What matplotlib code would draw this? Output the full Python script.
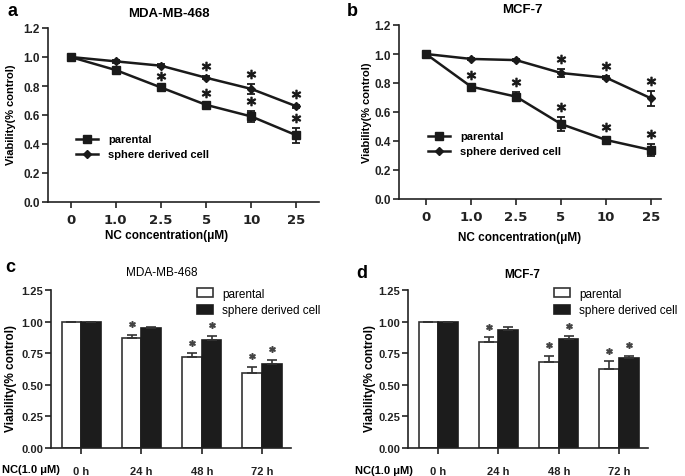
import matplotlib
matplotlib.use("Agg")
import matplotlib.pyplot as plt
from matplotlib.lines import Line2D
import numpy as np

plt.rcParams['font.family'] = ['Liberation Sans', 'DejaVu Sans']

W, H = 685, 477

# line panels (a, b)
conc_labels = ['0', '1.0', '2.5', '5', '10', '25']

a_par = [1.0, 0.91, 0.79, 0.67, 0.59, 0.46]
a_par_err = [0.01, 0.015, 0.012, 0.01, 0.035, 0.05]
a_sph = [1.0, 0.97, 0.94, 0.857, 0.78, 0.66]
a_sph_err = [0.01, 0.01, 0.01, 0.012, 0.035, 0.012]
a_par_star = [0, 0, 1, 1, 1, 1]
a_sph_star = [0, 0, 0, 1, 1, 1]

b_par = [1.0, 0.775, 0.706, 0.517, 0.407, 0.338]
b_par_err = [0.012, 0.012, 0.03, 0.05, 0.02, 0.04]
b_sph = [1.0, 0.966, 0.958, 0.869, 0.837, 0.694]
b_sph_err = [0.01, 0.008, 0.008, 0.025, 0.01, 0.05]
b_par_star = [0, 1, 1, 1, 1, 1]
b_sph_star = [0, 0, 0, 1, 1, 1]

# bar panels (c, d)
time_labels = ['0 h', '24 h', '48 h', '72 h']

c_par = [1.0, 0.868, 0.718, 0.594]
c_par_err = [0.0, 0.026, 0.03, 0.045]
c_sph = [1.0, 0.947, 0.857, 0.667]
c_sph_err = [0.0, 0.012, 0.03, 0.03]
c_par_star = [0, 1, 1, 1]
c_sph_star = [0, 0, 1, 1]

d_par = [1.0, 0.842, 0.678, 0.625]
d_par_err = [0.0, 0.034, 0.048, 0.06]
d_sph = [1.0, 0.934, 0.863, 0.71]
d_sph_err = [0.0, 0.026, 0.021, 0.016]
d_par_star = [0, 1, 1, 1]
d_sph_star = [0, 0, 1, 1]

INK = '#1a1a1a'


def box(l, t, r, b):
    return [l / W, 1 - b / H, (r - l) / W, (b - t) / H]


def ftext(x, y, s, **kw):
    fig.text(x / W, 1 - y / H, s, ha=kw.pop('ha', 'center'), va=kw.pop('va', 'center'), **kw)


def style(ax):
    for s in ['top', 'right']:
        ax.spines[s].set_visible(False)
    for s in ['left', 'bottom']:
        ax.spines[s].set_linewidth(1.2)
        ax.spines[s].set_color('#222222')
    ax.tick_params(direction='out', length=4, width=1.2, colors='#222222', pad=2)


def line_panel(ax, par, par_err, sph, sph_err, par_star, sph_star, xlim):
    x = np.arange(len(conc_labels))
    ax.errorbar(x, par, yerr=par_err, color=INK, marker='s', markersize=5.5,
                lw=1.8, elinewidth=1.3, capsize=3, capthick=1.3)
    ax.errorbar(x, sph, yerr=sph_err, color=INK, marker='D', markersize=4.5,
                lw=1.8, elinewidth=1.3, capsize=3, capthick=1.3)
    for i in range(len(x)):
        if par_star[i]:
            ax.plot(x[i], par[i] + par_err[i] + 0.07, marker='$*$', color=INK,
                    markersize=6, linestyle='none')
        if sph_star[i]:
            ax.plot(x[i], sph[i] + sph_err[i] + 0.07, marker='$*$', color=INK,
                    markersize=6, linestyle='none')
    ax.set_xlim(*xlim)
    ax.set_ylim(0, 1.2)
    ax.set_xticks(x)
    ax.set_xticklabels(conc_labels, fontsize=9.5, fontweight='heavy', family='DejaVu Sans')
    ax.set_yticks(np.arange(0, 1.21, 0.2))
    ax.set_yticklabels(['%.1f' % v for v in np.arange(0, 1.21, 0.2)], fontsize=8.5,
                       fontweight='bold')
    style(ax)
    ax.tick_params(axis='x', pad=4)
    handles = [Line2D([], [], color=INK, marker='s', markersize=5.5, lw=1.8),
               Line2D([], [], color=INK, marker='D', markersize=4.5, lw=1.8)]
    return handles


def bar_panel(ax, par, par_err, sph, sph_err, par_star, sph_star):
    x = np.arange(len(time_labels))
    w = 0.325
    ax.bar(x - w / 2, par, w, yerr=[np.zeros(len(x)), par_err], color='white',
           edgecolor='#333333', lw=1.2, capsize=3.5,
           error_kw=dict(elinewidth=1.2, capthick=1.2, ecolor='#333333'), label='parental')
    ax.bar(x + w / 2, sph, w, yerr=[np.zeros(len(x)), sph_err], color='#1c1c1c',
           edgecolor='#1c1c1c', lw=1.2, capsize=3.5,
           error_kw=dict(elinewidth=1.2, capthick=1.2, ecolor='#333333'),
           label='sphere derived cell')
    for i in range(len(x)):
        if par_star[i]:
            ax.plot(x[i] - w / 2, par[i] + par_err[i] + 0.085, marker='$*$', color='#444444',
                    markersize=4, linestyle='none')
        if sph_star[i]:
            ax.plot(x[i] + w / 2, sph[i] + sph_err[i] + 0.085, marker='$*$', color='#444444',
                    markersize=4, linestyle='none')
    ax.set_xlim(-0.5, 3.48)
    ax.set_ylim(0, 1.25)
    ax.set_xticks(x)
    ax.set_xticklabels(time_labels, fontsize=8, fontweight='bold')
    ticks = np.arange(0, 1.26, 0.25)
    ax.set_yticks(ticks)
    ax.set_yticklabels(['%.2f' % v for v in ticks], fontsize=8, fontweight='bold')
    style(ax)
    ax.tick_params(axis='x', pad=9)
    ax.tick_params(axis='y', pad=1.5)


fig = plt.figure(figsize=(W / 100, H / 100), dpi=100)

names = ['parental', 'sphere derived cell']

ax_a = fig.add_axes(box(48, 29, 319, 203))
h = line_panel(ax_a, a_par, a_par_err, a_sph, a_sph_err, a_par_star, a_sph_star, (-0.5, 5.5))
ax_a.legend(h, names, loc='upper left', bbox_to_anchor=(0.082, 0.42), frameon=False,
            prop=dict(weight='bold', size=8), handlelength=2.0, handletextpad=0.9,
            labelspacing=0.45, borderpad=0)

ax_b = fig.add_axes(box(399, 26, 661, 200))
h = line_panel(ax_b, b_par, b_par_err, b_sph, b_sph_err, b_par_star, b_sph_star, (-0.6, 5.22))
ax_b.legend(h, names, loc='upper left', bbox_to_anchor=(0.09, 0.42), frameon=False,
            prop=dict(weight='bold', size=8), handlelength=2.0, handletextpad=0.9,
            labelspacing=0.45, borderpad=0)

ax_c = fig.add_axes(box(51, 291, 291, 449))
bar_panel(ax_c, c_par, c_par_err, c_sph, c_sph_err, c_par_star, c_sph_star)
ax_c.legend(loc='upper left', bbox_to_anchor=(0.585, 1.05), frameon=False,
            prop=dict(size=8.5), handlelength=1.3, handleheight=0.8, handletextpad=0.8,
            labelspacing=0.35, borderpad=0)

ax_d = fig.add_axes(box(408, 291, 648, 449))
bar_panel(ax_d, d_par, d_par_err, d_sph, d_sph_err, d_par_star, d_sph_star)
ax_d.legend(loc='upper left', bbox_to_anchor=(0.585, 1.05), frameon=False,
            prop=dict(size=8.5), handlelength=1.3, handleheight=0.8, handletextpad=0.8,
            labelspacing=0.35, borderpad=0)

# panel letters and titles
ftext(12, 11, 'a', fontsize=13, fontweight='bold')
ftext(352, 12, 'b', fontsize=13, fontweight='bold')
ftext(10, 268, 'c', fontsize=13, fontweight='bold')
ftext(362, 274, 'd', fontsize=13, fontweight='bold')

ftext(169, 14, 'MDA-MB-468', fontsize=9.5, fontweight='bold')
ftext(522, 10, 'MCF-7', fontsize=9.5, fontweight='bold')
ftext(162, 273, 'MDA-MB-468', fontsize=8.5)
ftext(522, 275, 'MCF-7', fontsize=8.5, fontweight='bold')

ftext(167, 236, 'NC concentration(\u03bcM)', fontsize=8.5, fontweight='bold')
ftext(520, 238, 'NC concentration(\u03bcM)', fontsize=8.5, fontweight='bold')

ftext(11, 115, 'Viability(% control)', fontsize=8, fontweight='bold', rotation=90)
ftext(367, 113, 'Viability(% control)', fontsize=8, fontweight='bold', rotation=90)
ftext(11, 378, 'Viability(% control)', fontsize=8.5, fontweight='bold', rotation=90)
ftext(370, 378, 'Viability(% control)', fontsize=8.5, fontweight='bold', rotation=90)

ftext(2, 470, 'NC(1.0 \u03bcM)', fontsize=8, fontweight='bold', ha='left')
ftext(355, 471, 'NC(1.0 \u03bcM)', fontsize=8, fontweight='bold', ha='left')

fig.savefig('out.png', dpi=100)
